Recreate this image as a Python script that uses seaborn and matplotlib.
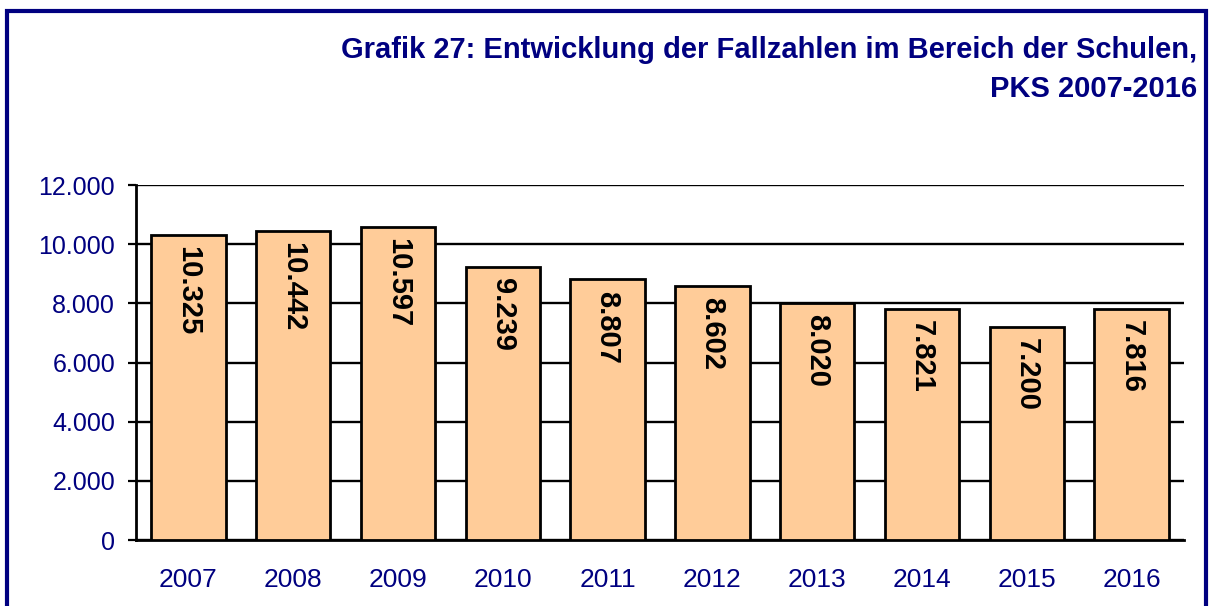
import pandas as pd
import numpy as np
import matplotlib
matplotlib.use("Agg")
import matplotlib.pyplot as plt
import matplotlib.patches as patches
import seaborn as sns

# Data
years = ["2007", "2008", "2009", "2010", "2011", "2012", "2013", "2014", "2015", "2016"]
cases = [10325, 10442, 10597, 9239, 8807, 8602, 8020, 7821, 7200, 7816]
y_ticks = [0, 2000, 4000, 6000, 8000, 10000, 12000]

df = pd.DataFrame({"Jahr": years, "Faelle": cases})

sns.set_style("white")
plt.rcParams['font.family'] = ['Liberation Sans', 'DejaVu Sans']

navy = "#000080"

fig = plt.figure(figsize=(12.11, 6.06), dpi=100)
ax = fig.add_axes([0.1123, 0.1089, 0.8654, 0.5858])

sns.barplot(data=df, x="Jahr", y="Faelle", color="#FFCC99", edgecolor="black",
            linewidth=2, width=0.71, saturation=1, ax=ax, zorder=3)

# value labels, rotated, inside top of each bar
for i, v in enumerate(cases):
    label = f"{v:,}".replace(",", ".")
    ax.annotate(label, xy=(i, v), xytext=(0, -8), textcoords="offset points",
                rotation=-90, ha="center", va="top", fontsize=21,
                fontweight="bold", color="black", zorder=4)

ax.set_ylim(0, 12000)
ax.set_xlim(-0.5, 9.5)
ax.set_yticks(y_ticks)
ax.set_yticklabels([f"{t:,}".replace(",", ".") for t in y_ticks], color=navy, fontsize=18)
ax.yaxis.grid(True, color="black", linewidth=1.7)
ax.set_axisbelow(True)

# category ticks between bars, labels at bar centers
ax.set_xticks(np.arange(-0.5, 10, 1))
ax.set_xticklabels([])
ax.set_xticks(range(len(years)), minor=True)
ax.set_xticklabels(years, minor=True, color=navy, fontsize=19)
ax.tick_params(axis="x", which="major", direction="out", length=6, width=1.6, color="black")
ax.tick_params(axis="x", which="minor", length=0, pad=20)
ax.tick_params(axis="y", direction="out", length=6, width=1.6, color="black", pad=9, left=True)

for s in ["top", "right"]:
    ax.spines[s].set_visible(False)
for s in ["left", "bottom"]:
    ax.spines[s].set_color("black")
    ax.spines[s].set_linewidth(2)

ax.set_xlabel("")
ax.set_ylabel("")

fig.text(0.9885, 1 - 58 / 606, "Grafik 27: Entwicklung der Fallzahlen im Bereich der Schulen,",
         ha="right", va="baseline", fontsize=21, fontweight="bold", color=navy)
fig.text(0.9885, 1 - 97 / 606, "PKS 2007-2016",
         ha="right", va="baseline", fontsize=21, fontweight="bold", color=navy)

# navy frame around the chart
frame = patches.Rectangle((7 / 1211, -0.1), 1199 / 1211, 1.1 - 11 / 606,
                          transform=fig.transFigure, fill=False,
                          edgecolor=navy, linewidth=3, clip_on=False)
fig.patches.append(frame)

plt.savefig("out.png", dpi=100)
plt.close()
